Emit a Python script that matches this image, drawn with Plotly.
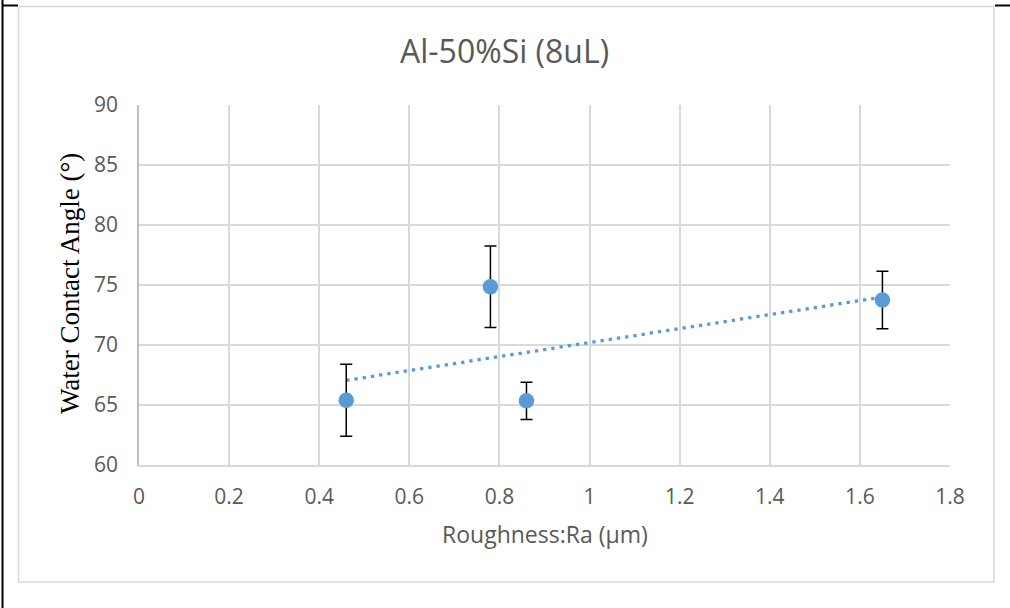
import numpy as np
import plotly.graph_objects as go

# Surface roughness (Ra, µm) vs water contact angle (°) with std-dev error bars
roughness_ra = [0.46, 0.78, 0.86, 1.65]
contact_angle = [65.4, 74.85, 65.35, 73.75]
angle_error = [3.0, 3.4, 1.55, 2.4]

x_ticks = [0, 0.2, 0.4, 0.6, 0.8, 1.0, 1.2, 1.4, 1.6, 1.8]
x_tick_labels = ["0", "0.2", "0.4", "0.6", "0.8", "1", "1.2", "1.4", "1.6", "1.8"]
y_ticks = [60, 65, 70, 75, 80, 85, 90]

BLUE = "#5B9BD5"
GRID = "#d9d9d9"
TEXT = "#595959"

# Linear trend line (least squares) across the measured range
slope, intercept = np.polyfit(roughness_ra, contact_angle, 1)
trend_x = [min(roughness_ra), max(roughness_ra)]
trend_y = [slope * v + intercept for v in trend_x]

fig = go.Figure()
fig.add_trace(go.Scatter(
    x=trend_x, y=trend_y, mode="lines",
    line=dict(color=BLUE, width=3.3, dash="3.3px,5px"),
    hoverinfo="skip", showlegend=False,
))
fig.add_trace(go.Scatter(
    x=roughness_ra, y=contact_angle, mode="markers",
    marker=dict(color=BLUE, size=15.5),
    error_y=dict(type="data", array=angle_error, visible=True,
                 color="black", thickness=1.5, width=6),
    showlegend=False,
))

# Plot-area geometry in pixels, used to place frame and labels in paper coords
L, R, T, B = 139, 950, 105, 465
def px(x):
    return (x - L) / (R - L)
def py(y):
    return (B - y) / (B - T)

shapes = [
    # light grey chart frame
    dict(type="rect", xref="paper", yref="paper",
         x0=px(18.5), x1=px(994), y0=py(6.5), y1=py(582),
         line=dict(color=GRID, width=1.5), layer="below"),
    # black table-cell borders
    dict(type="line", xref="paper", yref="paper",
         x0=px(2.5), x1=px(2.5), y0=py(0), y1=py(608),
         line=dict(color="black", width=2)),
    dict(type="line", xref="paper", yref="paper",
         x0=px(2), x1=px(18), y0=py(5.5), y1=py(5.5),
         line=dict(color="black", width=2)),
    dict(type="line", xref="paper", yref="paper",
         x0=px(995), x1=px(1010), y0=py(5.5), y1=py(5.5),
         line=dict(color="black", width=2)),
]

annotations = [
    dict(text="Al-50%Si (8uL)", xref="paper", yref="paper",
         x=px(504), y=py(50), xanchor="center", yanchor="middle",
         showarrow=False,
         font=dict(family="Open Sans", size=32, color=TEXT)),
    dict(text="Roughness:Ra (μm)", xref="paper", yref="paper",
         x=px(545), y=py(534), xanchor="center", yanchor="middle",
         showarrow=False,
         font=dict(family="Open Sans", size=23, color=TEXT)),
    dict(text="Water Contact Angle (°)", xref="paper", yref="paper",
         x=px(70), y=py(284), xanchor="center", yanchor="middle",
         showarrow=False, textangle=-90,
         font=dict(family="Liberation Serif", size=27, color="black")),
]

fig.update_layout(
    width=1010, height=608,
    margin=dict(l=L, r=1010 - R, t=T, b=608 - B),
    paper_bgcolor="white", plot_bgcolor="white",
    shapes=shapes, annotations=annotations,
    font=dict(family="Open Sans", size=21, color=TEXT),
)
fig.update_xaxes(
    range=[0, 1.8], tickvals=x_ticks, ticktext=x_tick_labels,
    showgrid=True, gridcolor=GRID, gridwidth=1.5,
    showline=True, linecolor=GRID, linewidth=1.5,
    zeroline=False, ticks="", ticklabelstandoff=12,
    tickfont=dict(family="Open Sans", size=21, color=TEXT),
)
fig.update_yaxes(
    range=[60, 90], tickvals=y_ticks,
    showgrid=True, gridcolor=GRID, gridwidth=1.5,
    showline=True, linecolor="#bfbfbf", linewidth=1.5,
    zeroline=False, ticks="", ticklabelstandoff=15,
    tickfont=dict(family="Open Sans", size=21, color=TEXT),
)

fig.write_html("out.html")
